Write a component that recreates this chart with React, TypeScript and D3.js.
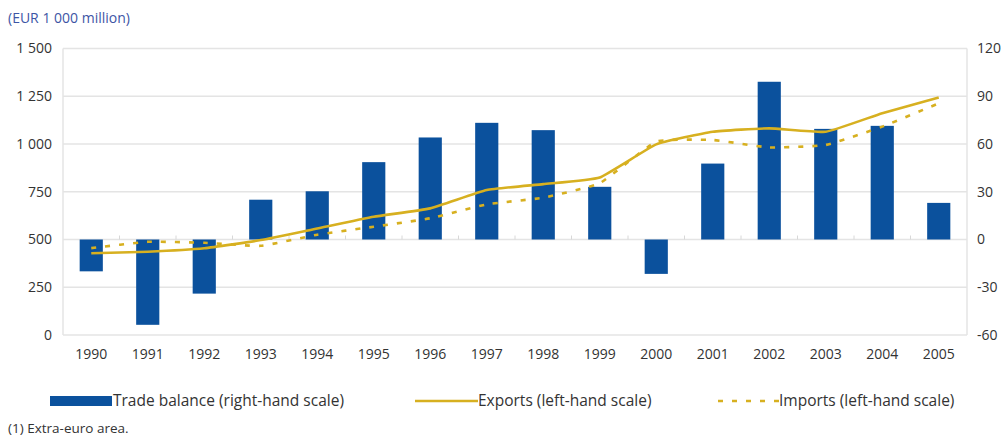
import * as d3 from "d3";

// values
const years = ["1990", "1991", "1992", "1993", "1994", "1995", "1996", "1997", "1998", "1999", "2000", "2001", "2002", "2003", "2004", "2005"];
const tradeBalance = [-20, -53.6, -34, 25, 30.3, 48.6, 64.1, 73.3, 68.7, 33.1, -21.6, 47.7, 99.1, 69.5, 71.4, 23];
const exportsVals = [428, 436, 454, 497, 558, 619, 663, 759, 790, 825, 998, 1064, 1082, 1064, 1161, 1244];
const importsVals = [455, 488, 483, 467, 525, 567, 611, 684, 719, 795, 1012, 1021, 982, 995, 1091, 1213];
const leftTicks = [0, 250, 500, 750, 1000, 1250, 1500];
const rightTicks = [-60, -30, 0, 30, 60, 90, 120];

const W = 1008;
const H = 436;
const m = { left: 63, right: 967, top: 48.5, bottom: 335 };
const BLUE = "#0b519d";
const GOLD = "#d7b020";
const GRID = "#e4e4e4";
const FONT = "'Open Sans', sans-serif";

const fmt = (v: number) => {
  const s = String(Math.abs(v));
  const g = s.replace(/\B(?=(\d{3})+(?!\d))/g, " ");
  return (v < 0 ? "-" : "") + g;
};

export default function App() {
  const x = d3.scaleBand().domain(years).range([m.left, m.right]).paddingInner(0.59).paddingOuter(0.295);
  const xc = (y: string) => (x(y) as number) + x.bandwidth() / 2;
  const step = (m.right - m.left) / years.length;
  const yL = d3.scaleLinear().domain([0, 1500]).range([m.bottom, m.top]);
  const yR = d3.scaleLinear().domain([-60, 120]).range([m.bottom, m.top]);

  const line = d3
    .line<number>()
    .x((_, i) => xc(years[i]))
    .y((d) => yL(d))
    .curve(d3.curveCardinal.tension(0.6));

  return (
    <svg width={W} height={H} style={{ position: "absolute", left: 0, top: 0, fontFamily: FONT }}>
      <rect width={W} height={H} fill="#fff" />
      <text x={8} y={23} fontSize={14} fill="#3d55a5">(EUR 1 000 million)</text>

      {/* grid + frame */}
      {leftTicks.map((t) => (
        <line key={t} x1={m.left} x2={m.right} y1={yL(t)} y2={yL(t)} stroke={GRID} strokeWidth={1.5} />
      ))}
      <line x1={m.left} x2={m.left} y1={m.top} y2={m.bottom} stroke={GRID} strokeWidth={1.5} />
      <line x1={m.right} x2={m.right} y1={m.top} y2={m.bottom} stroke={GRID} strokeWidth={1.5} />

      {/* category ticks on the zero line */}
      {years.slice(1).map((_, i) => (
        <line key={i} x1={m.left + step * (i + 1)} x2={m.left + step * (i + 1)} y1={yR(0) - 4} y2={yR(0)} stroke="#d8d8d8" strokeWidth={1} />
      ))}

      {/* left axis */}
      {leftTicks.map((t) => (
        <text key={t} x={52} y={yL(t)} dy="0.35em" textAnchor="end" fontSize={14} fill="#333">
          {fmt(t)}
        </text>
      ))}
      {/* right axis */}
      {rightTicks.map((t) => (
        <text key={t} x={977} y={yR(t)} dy="0.35em" textAnchor="start" fontSize={14} fill="#333">
          {fmt(t)}
        </text>
      ))}
      {/* x labels */}
      {years.map((yr) => (
        <text key={yr} x={xc(yr)} y={354} dy="0.35em" textAnchor="middle" fontSize={14} fill="#333">
          {yr}
        </text>
      ))}

      {/* bars */}
      {tradeBalance.map((v, i) => (
        <rect
          key={years[i]}
          x={x(years[i])}
          width={x.bandwidth()}
          y={Math.min(yR(v), yR(0))}
          height={Math.abs(yR(v) - yR(0))}
          fill={BLUE}
        />
      ))}

      {/* lines */}
      <path d={line(importsVals) || ""} fill="none" stroke={GOLD} strokeWidth={2.6} strokeDasharray="5 9" />
      <path d={line(exportsVals) || ""} fill="none" stroke={GOLD} strokeWidth={2.6} />

      {/* legend */}
      <rect x={50} y={396} width={62} height={10} fill={BLUE} />
      <text x={113} y={401} dy="0.35em" fontSize={15.5} fill="#333">Trade balance (right-hand scale)</text>
      <line x1={415} x2={478} y1={401} y2={401} stroke={GOLD} strokeWidth={2.6} />
      <text x={478} y={401} dy="0.35em" fontSize={15.5} fill="#333">Exports (left-hand scale)</text>
      <line x1={718} x2={779} y1={401} y2={401} stroke={GOLD} strokeWidth={2.6} strokeDasharray="5 9" />
      <text x={779} y={401} dy="0.35em" fontSize={15.5} fill="#333">Imports (left-hand scale)</text>

      <text x={8} y={428} dy="0.35em" fontSize={13.5} fill="#333">(1) Extra-euro area.</text>
    </svg>
  );
}
